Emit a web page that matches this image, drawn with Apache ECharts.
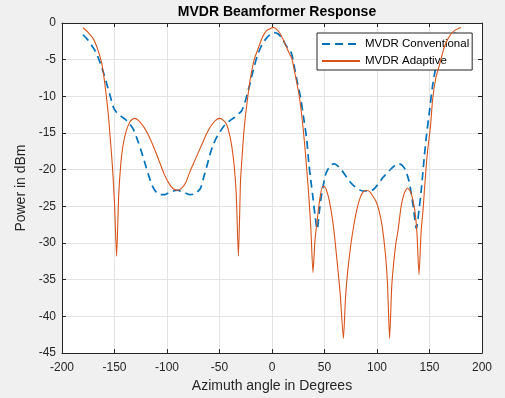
<!DOCTYPE html>
<html>
<head>
<meta charset="utf-8">
<script src="https://cdn.jsdelivr.net/npm/echarts@6/dist/echarts.min.js"></script>
<style>
html,body{margin:0;padding:0;background:#f0f0f0;}
#chart{width:505px;height:398px;}
</style>
</head>
<body>
<div id="chart"></div>
<script>
var titleText = 'MVDR Beamformer Response';
var xLabel = 'Azimuth angle in Degrees';
var yLabel = 'Power in dBm';
var seriesNames = ['MVDR Conventional', 'MVDR Adaptive'];

var convAngles = [-180,-176,-172,-168,-164,-160,-157,-154,-151,-148,-144,-140,-136,-132,-128,-124,-120,-117,-114,-110,-106,-102,-98,-94,-90,-86,-82,-78,-74,-71,-68,-65,-62,-59,-56,-52,-48,-45,-40,-36,-32,-29,-26,-23,-21,-18,-14,-10,-6,-2,2,6,10,14,18,21,24,27,30,33,35,37,39,41,43,45,47,50,52,56,59,62,66,70,74,78,82,86,90,94,98,102,106,110,114,118,121,124,127,130,132,135,137.5,140,142,145,147,150,153,156,159,162,166,170,174,178,180];
var convPower = [-1.6,-2.2,-3.0,-3.9,-5.3,-7.0,-8.5,-10.0,-11.5,-12.2,-12.7,-13.1,-13.7,-14.5,-16.0,-17.7,-19.6,-21.0,-22.2,-23.1,-23.4,-23.4,-23.1,-22.9,-22.8,-23.0,-23.2,-23.4,-23.3,-23.0,-22.5,-21.0,-19.5,-17.9,-16.6,-15.4,-14.5,-13.9,-13.3,-12.9,-12.4,-12.0,-10.9,-9.4,-8.3,-6.5,-4.5,-3.1,-2.2,-1.6,-1.3,-1.5,-2.2,-3.2,-3.9,-5.8,-8.0,-10.0,-12.8,-15.8,-19.0,-21.5,-23.8,-26.3,-28.1,-25.8,-23.6,-21.3,-20.3,-19.4,-19.2,-19.4,-20.0,-20.8,-21.6,-22.2,-22.6,-22.9,-22.9,-22.9,-22.5,-21.8,-21.0,-20.4,-19.8,-19.3,-19.2,-19.4,-20.0,-21.3,-22.7,-25.5,-28.0,-25.5,-23.0,-18.3,-15.5,-12.0,-8.5,-6.0,-3.8,-2.3,-1.6,-1.4,-1.4,-1.5,-1.6];

var adaptAngles = [-180,-175,-170,-166,-162,-159,-156,-154,-152,-150,-148,-146,-144,-142,-139,-135,-131,-127,-122,-118,-113,-108,-103,-98,-94,-90,-86,-82,-78,-74,-70,-66,-62,-58,-54,-50,-46,-43,-40,-38,-36,-34,-32,-30,-29,-27,-25,-23,-21,-17,-13,-9,-5,-1,1,4,8,12,16,19,22,26,29,31,33,35,37,39,41,43,45,48,50,53,56,59,62,65,68,70,72,75,78,81,84,87,90,93,96,99,102,105,108,110,112,114,116,118,120,123,126,129,132,134,136,138,140,142,144,145,147,148,151,153,156,159.5,163,166,170,174,178,180];
var adaptPower = [-0.65,-1.3,-2.2,-3.6,-5.6,-8.5,-12.3,-15.8,-19.5,-24.5,-31.8,-23.5,-19.2,-16.8,-14.8,-13.4,-13.0,-13.3,-14.2,-15.2,-16.8,-18.6,-20.5,-21.9,-22.6,-22.8,-22.5,-21.7,-20.2,-18.9,-17.6,-16.3,-15.0,-14.0,-13.3,-13.0,-13.3,-13.9,-15.5,-17.1,-19.5,-23.5,-31.8,-21.5,-19.3,-15.2,-12.3,-10.0,-7.9,-5.0,-3.4,-1.9,-1.0,-0.7,-0.6,-0.8,-1.5,-2.7,-4.0,-4.9,-7.0,-10.0,-13.5,-16.4,-19.8,-23.5,-28.0,-34.0,-29.5,-27.0,-24.5,-22.3,-22.3,-23.3,-25.3,-28.3,-32.5,-37.0,-43.0,-37.5,-34.0,-30.3,-27.5,-25.3,-23.8,-23.0,-22.8,-23.0,-23.6,-24.3,-25.6,-27.8,-31.5,-35.5,-43.0,-36.0,-32.5,-30.0,-28.3,-25.0,-23.2,-22.5,-23.0,-24.0,-25.5,-28.5,-34.3,-28.5,-25.2,-23.1,-19.3,-17.7,-14.0,-10.4,-7.5,-5.7,-3.8,-2.6,-1.6,-1.0,-0.7,-0.6];

var xTicks = {min: -200, max: 200, interval: 50};
var yTicks = {min: -45, max: 0, interval: 5};

function pairs(xs, ys) {
  var out = [];
  for (var i = 0; i < xs.length; i++) out.push([xs[i], ys[i]]);
  return out;
}

var chart = echarts.init(document.getElementById('chart'), null, {renderer: 'canvas'});
var axisColor = '#262626';
var gridColor = '#e3e3e3';
var font = 'Liberation Sans, Arial, Helvetica, sans-serif';

function xAxisCfg(pos, show) {
  return {
    type: 'value', position: pos, min: xTicks.min, max: xTicks.max, interval: xTicks.interval,
    name: show ? xLabel : '', nameLocation: 'middle', nameGap: 24,
    nameTextStyle: {fontSize: 14, color: axisColor, fontFamily: font},
    axisLine: {show: true, onZero: false, lineStyle: {color: axisColor, width: 1}},
    axisTick: {show: true, inside: true, length: 4, lineStyle: {color: axisColor}},
    axisLabel: {show: show, fontSize: 12, color: axisColor, fontFamily: font, margin: 9},
    splitLine: {show: show, lineStyle: {color: gridColor, width: 1}}
  };
}
function yAxisCfg(pos, show) {
  return {
    type: 'value', position: pos, min: yTicks.min, max: yTicks.max, interval: yTicks.interval,
    name: show ? yLabel : '', nameLocation: 'middle', nameGap: 29, nameRotate: 90,
    nameTextStyle: {fontSize: 14, color: axisColor, fontFamily: font},
    axisLine: {show: true, onZero: false, lineStyle: {color: axisColor, width: 1}},
    axisTick: {show: true, inside: true, length: 4, lineStyle: {color: axisColor}},
    axisLabel: {show: show, fontSize: 12, color: axisColor, fontFamily: font, margin: 6, padding: [4, 0, 0, 0]},
    splitLine: {show: show, lineStyle: {color: gridColor, width: 1}}
  };
}

chart.setOption({
  backgroundColor: '#f0f0f0',
  animation: false,
  title: {
    text: titleText, left: 272, top: 0, textAlign: 'center',
    textStyle: {fontSize: 14, fontWeight: 'bold', color: '#000', fontFamily: font}
  },
  grid: {left: 62, right: 23, top: 23, bottom: 44, show: true, backgroundColor: '#ffffff', borderWidth: 0},
  legend: {
    orient: 'vertical', left: 317, top: 33,
    backgroundColor: '#ffffff', borderColor: axisColor, borderWidth: 1, borderRadius: 0,
    padding: [5, 3, 3, 4], itemGap: 5, itemWidth: 38, itemHeight: 14,
    itemStyle: {opacity: 0},
    textStyle: {fontSize: 11.5, color: '#000', fontFamily: font},
    data: seriesNames
  },
  xAxis: [xAxisCfg('bottom', true), xAxisCfg('top', false)],
  yAxis: [yAxisCfg('left', true), yAxisCfg('right', false)],
  series: [
    {
      name: seriesNames[0], type: 'line', xAxisIndex: 0, yAxisIndex: 0,
      data: pairs(convAngles, convPower), symbol: 'none', smooth: 0.3,
      lineStyle: {color: '#0072BD', width: 1.7, type: [8, 5]},
      itemStyle: {color: '#0072BD'}, z: 3
    },
    {
      name: seriesNames[1], type: 'line', xAxisIndex: 0, yAxisIndex: 0,
      data: pairs(adaptAngles, adaptPower), symbol: 'none', smooth: 0.2,
      lineStyle: {color: '#D95319', width: 1.1},
      itemStyle: {color: '#D95319'}, z: 4
    }
  ]
});
</script>
</body>
</html>
